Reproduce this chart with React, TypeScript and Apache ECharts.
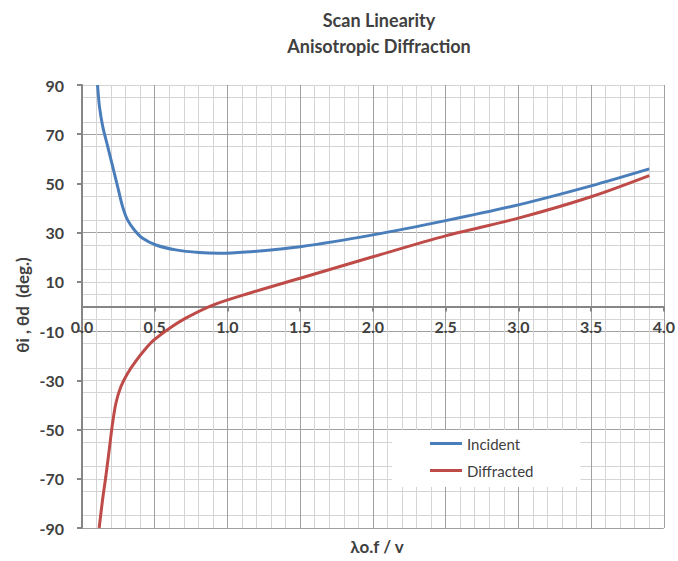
import React, { useEffect, useRef } from "react";
import * as echarts from "echarts";

const titleLines = ["Scan Linearity", "Anisotropic Diffraction"];
const xAxisTitle = "λo.f / v";
const yAxisTitle = "θi , θd  (deg.)";
const yTickLabels = [-90, -70, -50, -30, -10, 10, 30, 50, 70, 90];

const incidentX = [0.107, 0.12, 0.143, 0.177, 0.211, 0.245, 0.279, 0.313, 0.36, 0.417, 0.508, 0.645, 0.805, 0.94, 1.125, 1.5, 2.0, 2.5, 3.0, 3.5, 3.9];
const incidentY = [90, 81.2, 73, 65, 56.8, 48.7, 40.6, 35.2, 31.1, 27.7, 25, 23, 21.9, 21.6, 22.1, 24.3, 29.1, 34.9, 41.3, 49, 55.9];

const diffractedX = [0.118, 0.141, 0.164, 0.187, 0.21, 0.233, 0.267, 0.313, 0.37, 0.44, 0.495, 0.6, 0.71, 0.9, 1.15, 1.5, 2.0, 2.5, 3.0, 3.5, 3.9];
const diffractedY = [-90, -78.7, -69, -58.3, -47.5, -39.3, -32.6, -27.2, -22.2, -17.0, -13.6, -8.9, -4.8, 0.6, 5.4, 11.5, 20.2, 28.7, 35.9, 44.6, 53.2];

const seriesNames = ["Incident", "Diffracted"];
const seriesColors = ["#4A7EBB", "#BE4B48"];

const MAJOR = "#a0a0a0";
const MINOR = "#d4d4d4";
const AXIS = "#868686";
const TEXT = "#404040";
const FONT = "Lato, 'Open Sans', sans-serif";

const GRID_TOP = 85;
const GRID_BOTTOM = 33;
const CHART_H = 561;

export default function App() {
  const ref = useRef<HTMLDivElement>(null);
  useEffect(() => {
    if (!ref.current) return;
    const chart = echarts.init(ref.current, null, { renderer: "svg" });
    const pairs = (xs: number[], ys: number[]) => xs.map((x, i) => [x, ys[i]]);
    const plotH = CHART_H - GRID_TOP - GRID_BOTTOM;
    const zeroOffset = -plotH / 2;
    const txt = (text: string, x: number, y: number, size: number, extra: any = {}) => ({
      type: "text",
      x,
      y,
      ...extra,
      style: {
        text,
        align: "center",
        verticalAlign: "middle",
        textAlign: "center",
        textVerticalAlign: "middle",
        fontSize: size,
        fontWeight: "bold",
        fontFamily: FONT,
        fill: TEXT,
      },
    });
    chart.setOption({
      animation: false,
      backgroundColor: "#ffffff",
      grid: { left: 82, right: 12, top: GRID_TOP, bottom: GRID_BOTTOM, containLabel: false },
      graphic: [
        txt(titleLines[0], 379, 20, 18),
        txt(titleLines[1], 379, 46, 18),
        txt(xAxisTitle, 377, 546, 17),
        txt(yAxisTitle, 22, 305, 17, { rotation: Math.PI / 2 }),
      ],
      legend: {
        orient: "vertical",
        left: 392,
        top: 430,
        backgroundColor: "#ffffff",
        padding: [6, 47, 9, 38],
        icon: "rect",
        itemWidth: 32,
        itemHeight: 3,
        itemGap: 12,
        textStyle: { fontSize: 15, color: TEXT, fontFamily: FONT },
        data: seriesNames,
      },
      xAxis: {
        type: "value",
        min: 0,
        max: 4,
        interval: 0.5,
        offset: zeroOffset,
        axisLine: { onZero: false, lineStyle: { color: AXIS, width: 2 } },
        axisTick: { show: true, length: 5, lineStyle: { color: AXIS, width: 2 } },
        axisLabel: { formatter: (v: number) => v.toFixed(1), fontSize: 16, fontWeight: "bold", color: TEXT, fontFamily: FONT, margin: 12 },
        splitLine: { show: true, lineStyle: { color: MAJOR, width: 1 } },
        minorTick: { show: false, splitNumber: 5 },
        minorSplitLine: { show: true, lineStyle: { color: MINOR, width: 1 } },
      },
      yAxis: {
        type: "value",
        min: -90,
        max: 90,
        interval: 10,
        axisLine: { show: true, onZero: false, lineStyle: { color: AXIS, width: 2 } },
        axisTick: { show: true, length: 5, customValues: yTickLabels, lineStyle: { color: AXIS, width: 2 } },
        axisLabel: { customValues: yTickLabels, fontSize: 16, fontWeight: "bold", color: TEXT, fontFamily: FONT, margin: 18 },
        splitLine: { show: true, lineStyle: { color: [MAJOR, MINOR], width: 1 } },
        minorTick: { show: false, splitNumber: 2 },
        minorSplitLine: { show: true, lineStyle: { color: MINOR, width: 1 } },
      },
      series: [
        {
          name: seriesNames[0],
          type: "line",
          data: pairs(incidentX, incidentY),
          smooth: 0.3,
          symbol: "none",
          lineStyle: { color: seriesColors[0], width: 3 },
          itemStyle: { color: seriesColors[0] },
        },
        {
          name: seriesNames[1],
          type: "line",
          data: pairs(diffractedX, diffractedY),
          smooth: 0.3,
          symbol: "none",
          lineStyle: { color: seriesColors[1], width: 3 },
          itemStyle: { color: seriesColors[1] },
        },
      ],
    });
    return () => chart.dispose();
  }, []);
  return <div ref={ref} style={{ position: "fixed", left: 0, top: 0, width: 678, height: 561 }} />;
}
